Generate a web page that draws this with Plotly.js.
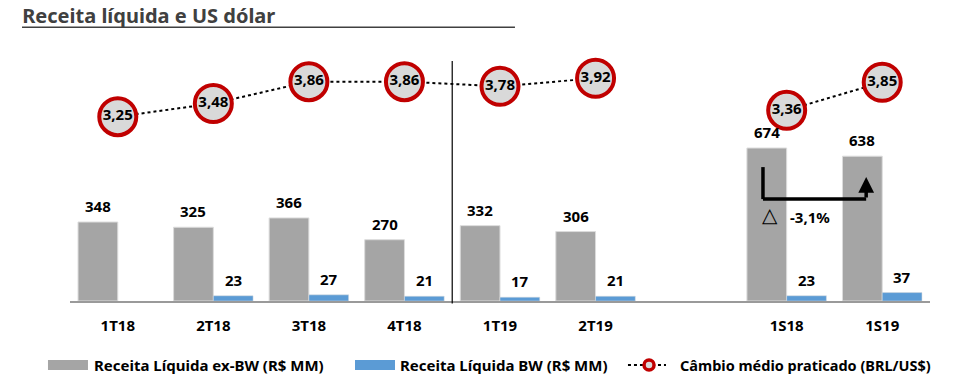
<!DOCTYPE html>
<html>
<head>
<meta charset="utf-8">
<script src="https://cdn.plot.ly/plotly-3.0.1.min.js"></script>
<style>html,body{margin:0;padding:0;background:#fff;}#chart{width:967px;height:384px;}</style>
</head>
<body>
<div id="chart"></div>
<script>
const categories = ['1T18','2T18','3T18','4T18','1T19','2T19','','1S18','1S19'];
const receitaExBW = [348,325,366,270,332,306,null,674,638];
const receitaBW = [null,23,27,21,17,21,null,23,37];
const cambio = [3.25,3.48,3.86,3.86,3.78,3.92,null,3.36,3.85];
const seriesNames = ['Receita Líquida ex-BW (R$ MM)','Receita Líquida BW (R$ MM)','Câmbio médio praticado (BRL/US$)'];
const variacaoTexto = '-3,1%';

const FONT = 'Noto Sans, Open Sans, sans-serif';
const GRAY = '#a5a5a5', BLUE = '#5b9bd5', RED = '#c00000', FILL = '#d9d9d9';
const xs = categories.map((_, i) => i);
const bargap = 0.168;
const off = (1 - bargap) / 4;

const traces = [
  {type:'bar', name:seriesNames[0], x: xs, y: receitaExBW,
   marker:{color:GRAY, line:{color:'#dcdcdc', width:1}}, hoverinfo:'skip'},
  {type:'bar', name:seriesNames[1], x: xs, y: receitaBW,
   marker:{color:BLUE, line:{color:'#dcdcdc', width:0.5}}, hoverinfo:'skip'},
  {type:'scatter', mode:'lines+markers', name:seriesNames[2], x: xs, y: cambio, yaxis:'y2',
   connectgaps:false, line:{color:'#000', width:2, dash:'dot'},
   marker:{size:37, color:FILL, line:{color:RED, width:4}}, cliponaxis:false},
  {type:'scatter', mode:'text', showlegend:false, x: xs, y: cambio, yaxis:'y2',
   texttemplate:'%{y:.2f}', textposition:'middle center', cliponaxis:false,
   textfont:{family:FONT, size:15, color:'#000', weight:'bold'}}
];

const lblFont = {family:FONT, size:15, color:'#000', weight:'bold'};
const annotations = [];
receitaExBW.forEach((v, i) => {
  if (v == null) return;
  annotations.push({x: i - off, y: v, xref:'x', yref:'y', text: String(v), showarrow:false, yshift:16, font:lblFont});
});
receitaBW.forEach((v, i) => {
  if (v == null) return;
  annotations.push({x: i + off, y: v, xref:'x', yref:'y', text: String(v), showarrow:false, yshift:16, font:lblFont});
});
// variation arrow between 1S18 and 1S19
const i18 = categories.indexOf('1S18'), i19 = categories.indexOf('1S19');
annotations.push({x: i19 - off + 0.04, y: 546, ax: i19 - off + 0.04, ay: 449, xref:'x', yref:'y', axref:'x', ayref:'y',
  text:'', showarrow:true, arrowhead:2, arrowsize:0.9, arrowwidth:3.5, arrowcolor:'#000', standoff:0});
annotations.push({x: i18 - off + 0.03, y: 449, xref:'x', yref:'y', text:'△', showarrow:false, yshift:-16,
  font:{family:'DejaVu Sans, sans-serif', size:20, color:'#000'}});
annotations.push({x: i18 + 0.24, y: 449, xref:'x', yref:'y', text: variacaoTexto, showarrow:false, yshift:-18, font:lblFont});

// custom legend (paper coords)
const legFont = {family:FONT, size:15, color:'#000', weight:'bold'};
const legY = -0.245;
annotations.push({xref:'paper', yref:'paper', x:0.0256, y:legY, xanchor:'left', yanchor:'middle', text:seriesNames[0], showarrow:false, font:legFont});
annotations.push({xref:'paper', yref:'paper', x:0.3814, y:legY, xanchor:'left', yanchor:'middle', text:seriesNames[1], showarrow:false, font:legFont});
annotations.push({xref:'paper', yref:'paper', x:0.7070, y:legY, xanchor:'left', yanchor:'middle', text:seriesNames[2], showarrow:false, font:{family:FONT, size:14.5, color:'#000', weight:'bold'}});

const shapes = [
  // title underline
  {type:'line', xref:'paper', yref:'paper', x0:-0.0558, x1:0.5174, y0:1.049, y1:1.049, line:{color:'#404040', width:1.5}},
  // separator between 4T18 and 1T19
  {type:'line', xref:'x', yref:'paper', x0:3.5, x1:3.5, y0:-0.01, y1:0.92, line:{color:'#000', width:1.2}},
  // bracket
  {type:'line', xref:'x', yref:'y', x0:i18 - off - 0.04, x1:i18 - off - 0.04, y0:590, y1:449, line:{color:'#000', width:3.5}},
  {type:'line', xref:'x', yref:'y', x0:i18 - off - 0.04, x1:i19 - off + 0.04, y0:449, y1:449, line:{color:'#000', width:3.5}},
  // legend swatches
  {type:'rect', xref:'paper', yref:'paper', x0:-0.0256, x1:0.0209, y0:-0.2644, y1:-0.2261, fillcolor:GRAY, line:{width:0}},
  {type:'rect', xref:'paper', yref:'paper', x0:0.3314, x1:0.3779, y0:-0.2644, y1:-0.2261, fillcolor:BLUE, line:{width:0}},
  {type:'line', xref:'paper', yref:'paper', x0:0.6488, x1:0.6930, y0:legY, y1:legY, line:{color:'#000', width:2, dash:'dot'}},
  {type:'circle', xref:'paper', yref:'paper', xsizemode:'pixel', ysizemode:'pixel', xanchor:0.6733, yanchor:legY,
   x0:-5, x1:5, y0:-5, y1:5, fillcolor:FILL, line:{color:RED, width:3.5}}
];

const layout = {
  width:967, height:384,
  margin:{l:70, r:37, t:40, b:83},
  paper_bgcolor:'#fff', plot_bgcolor:'#fff',
  separators:',.',
  font:{family:FONT, color:'#000'},
  title:{text:'Receita líquida e US dólar', x:0.023, xanchor:'left', y:0.958, yanchor:'middle',
    font:{family:FONT, size:20, color:'#404040', weight:'bold'}},
  barmode:'group', bargap:bargap, bargroupgap:0,
  xaxis:{type:'linear', range:[-0.5, 8.5], tickvals: xs, ticktext: categories, showgrid:false, zeroline:false,
    showline:true, linecolor:'#9a9a9a', linewidth:1.5, ticks:'outside', ticklen:10, tickcolor:'rgba(0,0,0,0)',
    tickfont:{family:FONT, size:15, color:'#000', weight:'bold'}, fixedrange:true},
  yaxis:{range:[0, 1150], visible:false, showgrid:false, zeroline:false, fixedrange:true},
  yaxis2:{range:[0.039, 4.586], overlaying:'y', side:'right', visible:false, showgrid:false, zeroline:false, fixedrange:true},
  showlegend:false,
  annotations: annotations,
  shapes: shapes
};

Plotly.newPlot('chart', traces, layout, {displayModeBar:false, staticPlot:true});
</script>
</body>
</html>
